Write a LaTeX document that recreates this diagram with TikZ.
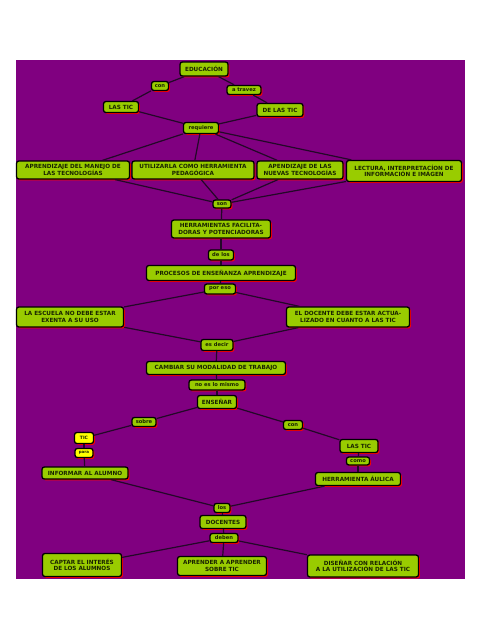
\documentclass[tikz,border=0pt]{standalone}
\usepackage{fontspec}
\newfontfamily\cfont{DejaVu Sans}
\usetikzlibrary{shadows}
\definecolor{cpurple}{RGB}{128,0,128}
\definecolor{cgreen}{RGB}{153,204,0}
\definecolor{cyellow}{RGB}{255,255,0}
\definecolor{ctext}{RGB}{25,35,0}
\definecolor{cline}{RGB}{35,8,40}
\begin{document}
\begin{tikzpicture}[x=1pt,y=-1pt,
  concept/.style={draw=black, line width=1.3pt, fill=cgreen, rounded corners=2.4pt,
    text=ctext, font=\cfont\bfseries\fontsize{5.7}{6.5}\selectfont, align=center,
    inner sep=0pt,
    drop shadow={shadow xshift=1.4pt, shadow yshift=-1.4pt, fill=red, opacity=1}},
  link/.style={concept, font=\cfont\bfseries\fontsize{5.2}{6}\selectfont},
  ylink/.style={link, fill=cyellow},
  conn/.style={draw=cline, line width=1.2pt}]
\useasboundingbox (0,0) rectangle (481,640);
\fill[white] (0,0) rectangle (481,640);
\fill[cpurple] (16,60) rectangle (465,579);
% nodes
\node[concept, minimum width=48, minimum height=14] (edu) at (204,69) {EDUCACIÓN};
\node[link, minimum width=17, minimum height=9] (con1) at (160,86) {con};
\node[link, minimum width=34, minimum height=9] (atravez) at (244,90) {a travez};
\node[concept, minimum width=35, minimum height=11] (lastic1) at (121,107) {LAS TIC};
\node[concept, minimum width=46, minimum height=13] (delastic) at (280,110) {DE LAS TIC};
\node[link, minimum width=35, minimum height=11] (requiere) at (201,128) {requiere};
\node[concept, minimum width=113, minimum height=18] (apr) at (73,170) {APRENDIZAJE DEL MANEJO DE\\LAS TECNOLOGÍAS};
\node[concept, minimum width=122, minimum height=18] (uti) at (193,170) {UTILIZARLA COMO HERRAMIENTA\\PEDAGÓGICA};
\node[concept, minimum width=86, minimum height=18] (apen) at (300,170) {APENDIZAJE DE LAS\\NUEVAS TECNOLOGÍAS};
\node[concept, minimum width=115, minimum height=21] (lec) at (404,171) {LECTURA, INTERPRETACÍON DE\\INFORMACIÓN E IMÁGEN};
\node[link, minimum width=18, minimum height=8] (son) at (222,204) {son};
\node[concept, minimum width=99, minimum height=18] (herr) at (221,229) {HERRAMIENTAS FACILITA-\\DORAS Y POTENCIADORAS};
\node[link, minimum width=25, minimum height=10] (delos) at (221,255) {de los};
\node[concept, minimum width=149, minimum height=15] (proc) at (221,273) {PROCESOS DE ENSEÑANZA APRENDIZAJE};
\node[link, minimum width=31, minimum height=10] (poreso) at (220,289) {por eso};
\node[concept, minimum width=107, minimum height=20] (esc) at (70,317) {LA ESCUELA NO DEBE ESTAR\\EXENTA A SU USO};
\node[concept, minimum width=123, minimum height=20] (doc) at (348,317) {EL DOCENTE DEBE ESTAR ACTUA-\\LIZADO EN CUANTO A LAS TIC};
\node[link, minimum width=32, minimum height=11] (esdecir) at (217,345) {es decir};
\node[concept, minimum width=139, minimum height=13] (camb) at (216,368) {CAMBIAR SU MODALIDAD DE TRABAJO};
\node[link, minimum width=56, minimum height=10] (noes) at (217,385) {no es lo mismo};
\node[concept, minimum width=39, minimum height=13] (ens) at (217,402) {ENSEÑAR};
\node[link, minimum width=24, minimum height=9] (sobre) at (144,422) {sobre};
\node[link, minimum width=19, minimum height=9] (con2) at (293,425) {con};
\node[ylink, minimum width=19, minimum height=11, font=\cfont\bfseries\fontsize{4.5}{5}\selectfont] (tic) at (84,438) {TIC};
\node[ylink, minimum width=18, minimum height=9, font=\cfont\bfseries\fontsize{4}{5}\selectfont] (para) at (84,453) {para};
\node[concept, minimum width=38, minimum height=13] (lastic2) at (359,446) {LAS TIC};
\node[link, minimum width=23, minimum height=8] (como) at (358,461) {como};
\node[concept, minimum width=86, minimum height=12] (inf) at (85,473) {INFORMAR AL ALUMNO};
\node[concept, minimum width=85, minimum height=13] (aul) at (358,479) {HERRAMIENTA ÁULICA};
\node[link, minimum width=16, minimum height=9] (los) at (222,508) {los};
\node[concept, minimum width=46, minimum height=13] (docs) at (223,522) {DOCENTES};
\node[link, minimum width=28, minimum height=9] (deben) at (224,538) {deben};
\node[concept, minimum width=79, minimum height=23] (cap) at (82,565) {CAPTAR EL INTERÉS\\DE LOS ALUMNOS};
\node[concept, minimum width=89, minimum height=19] (aprend) at (222,566) {APRENDER A APRENDER\\SOBRE TIC};
\node[concept, minimum width=111, minimum height=22] (dis) at (363,566) {DISEÑAR CON RELACIÓN\\A LA UTILIZACIÓN DE LAS TIC};
% connectors
\draw[conn] (edu) -- (con1);
\draw[conn] (con1) -- (lastic1);
\draw[conn] (edu) -- (atravez);
\draw[conn] (atravez) -- (delastic);
\draw[conn] (lastic1) -- (requiere);
\draw[conn] (delastic) -- (requiere);
\draw[conn] (requiere) -- (apr);
\draw[conn] (requiere) -- (uti);
\draw[conn] (requiere) -- (apen);
\draw[conn] (requiere) -- (lec);
\draw[conn] (apr) -- (son);
\draw[conn] (uti) -- (son);
\draw[conn] (apen) -- (son);
\draw[conn] (lec) -- (son);
\draw[conn] (son) -- (herr);
\draw[conn] (herr) -- (delos);
\draw[conn] (delos) -- (proc);
\draw[conn] (proc) -- (poreso);
\draw[conn] (poreso) -- (esc);
\draw[conn] (poreso) -- (doc);
\draw[conn] (esc) -- (esdecir);
\draw[conn] (doc) -- (esdecir);
\draw[conn] (esdecir) -- (camb);
\draw[conn] (camb) -- (noes);
\draw[conn] (noes) -- (ens);
\draw[conn] (ens) -- (sobre);
\draw[conn] (sobre) -- (tic);
\draw[conn] (tic) -- (para);
\draw[conn] (para) -- (inf);
\draw[conn] (ens) -- (con2);
\draw[conn] (con2) -- (lastic2);
\draw[conn] (lastic2) -- (como);
\draw[conn] (como) -- (aul);
\draw[conn] (inf) -- (los);
\draw[conn] (aul) -- (los);
\draw[conn] (los) -- (docs);
\draw[conn] (docs) -- (deben);
\draw[conn] (deben) -- (cap);
\draw[conn] (deben) -- (aprend);
\draw[conn] (deben) -- (dis);
\end{tikzpicture}
\end{document}
